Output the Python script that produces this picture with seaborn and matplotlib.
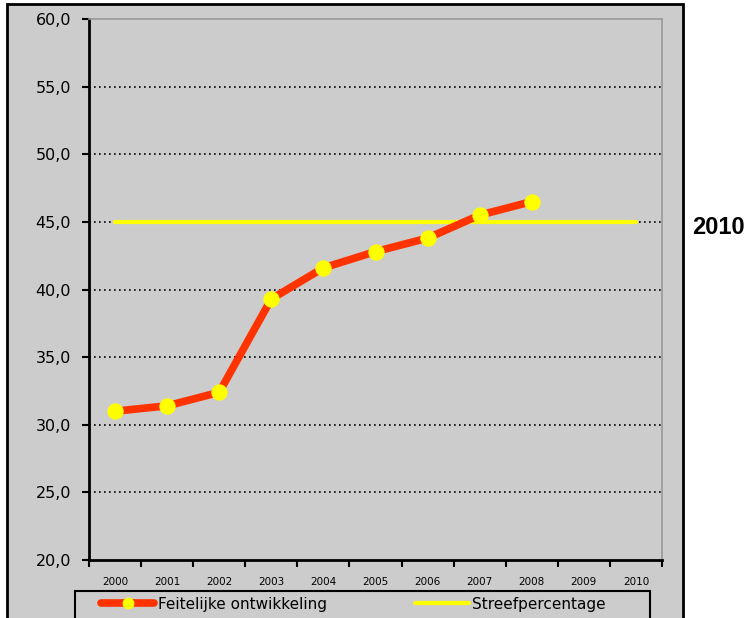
import matplotlib
matplotlib.use("Agg")
import matplotlib.pyplot as plt
import matplotlib.patches as mpatches
import numpy as np
import pandas as pd
import seaborn as sns

# data
years = ['2000', '2001', '2002', '2003', '2004', '2005', '2006', '2007', '2008', '2009', '2010']
actual_years = ['2000', '2001', '2002', '2003', '2004', '2005', '2006', '2007', '2008']
actual = [31.0, 31.4, 32.4, 39.3, 41.6, 42.8, 43.8, 45.5, 46.5]
target = [45.0] * len(years)
y_ticks = [20, 25, 30, 35, 40, 45, 50, 55, 60]

gray = '#cccccc'
sns.set_style("white", {'axes.facecolor': gray})
plt.rcParams['font.family'] = ['DejaVu Sans']
plt.rcParams['text.color'] = 'black'
plt.rcParams['xtick.color'] = 'black'
plt.rcParams['ytick.color'] = 'black'

df_actual = pd.DataFrame({'x': [years.index(y) for y in actual_years], 'val': actual})
df_target = pd.DataFrame({'x': list(range(len(years))), 'val': target})

fig = plt.figure(figsize=(7.5, 6.18), dpi=100)
fig.patch.set_facecolor('white')
# outer gray panel (cut off at the bottom like the original)
panel = mpatches.Rectangle((7 / 750, -0.1), 676 / 750, 1.1 - 4 / 618, transform=fig.transFigure,
                           facecolor=gray, edgecolor='black', linewidth=2, zorder=-5)
fig.patches.append(panel)
# legend box
legbox = mpatches.Rectangle((75 / 750, -0.1), 575 / 750, 0.1 + 1 - 591 / 618, transform=fig.transFigure,
                            facecolor=gray, edgecolor='black', linewidth=1.5, zorder=-4)
fig.patches.append(legbox)

ax = fig.add_axes([89 / 750, 1 - 560 / 618, 573 / 750, 541 / 618])
ax.set_facecolor(gray)

# target line
sns.lineplot(data=df_target, x='x', y='val', ax=ax, color='#ffff00', linewidth=3,
             label='Streefpercentage', zorder=3)
# actual development
sns.lineplot(data=df_actual, x='x', y='val', ax=ax, color='#ff3300', linewidth=5.5,
             marker='o', markersize=11, markerfacecolor='#ffff00', markeredgecolor='#ffff00',
             label='Feitelijke ontwikkeling', zorder=4)

ax.set_xlim(-0.5, len(years) - 0.5)
ax.set_ylim(20, 60)
ax.set_yticks(y_ticks)
ax.set_yticklabels([f"{v:.1f}".replace('.', ',') for v in y_ticks], fontsize=11.5)
ax.set_xticks(range(len(years)))
ax.set_xticklabels(years, fontsize=7.5)
ax.set_xticks(np.arange(-0.5, len(years)), minor=True)
ax.tick_params(axis='x', which='major', bottom=True, length=0, pad=12)
ax.tick_params(axis='x', which='minor', bottom=True, length=5, width=1.5, direction='out', color='black')
ax.tick_params(axis='y', left=True, length=5, width=1.5, direction='out', color='black', pad=8)
ax.set_xlabel('')
ax.set_ylabel('')

for v in y_ticks[1:-1]:
    ax.axhline(v, color='black', linestyle=(0, (1, 2)), linewidth=1.2, zorder=1)

for side in ['left', 'bottom']:
    ax.spines[side].set_color('black')
    ax.spines[side].set_linewidth(2)
for side in ['top', 'right']:
    ax.spines[side].set_color('#999999')
    ax.spines[side].set_linewidth(1.2)

# legend
handles, labels = ax.get_legend_handles_labels()
order = [labels.index('Feitelijke ontwikkeling'), labels.index('Streefpercentage')]
ax.legend([handles[i] for i in order], [labels[i] for i in order],
          loc='center left', bbox_to_anchor=(101 / 750, 1 - 604 / 618),
          bbox_transform=fig.transFigure, ncol=2, borderaxespad=0, borderpad=0,
          frameon=False, fontsize=11, handlelength=3.5, handletextpad=0.2,
          columnspacing=5.8, markerscale=0.7)

fig.text(692 / 750, 1 - 227 / 618, '2010', fontsize=17, fontweight='bold', color='black',
         family='Liberation Sans', ha='left', va='center')

fig.savefig('out.png', dpi=100)
